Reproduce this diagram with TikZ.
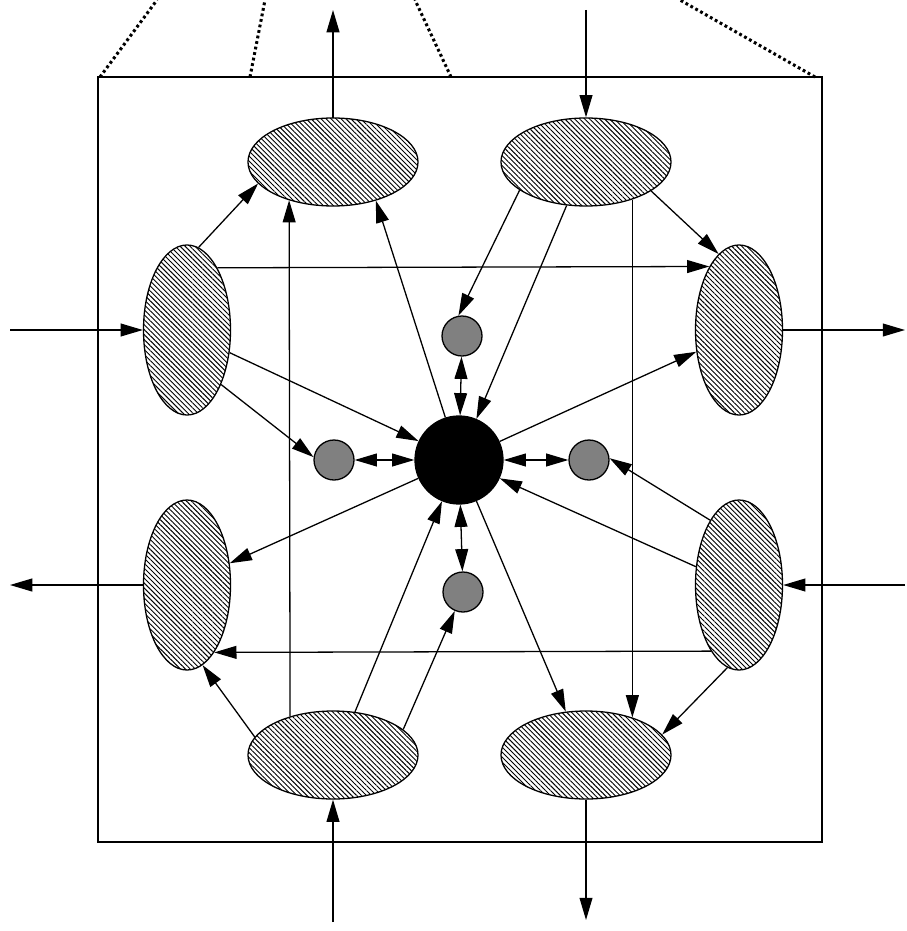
\documentclass[tikz,border=0pt]{standalone}
\usetikzlibrary{shapes.geometric,arrows.meta,patterns.meta}

\begin{document}
\begin{tikzpicture}[x=0.03cm,y=-0.03cm,line width=1.1pt,
    >={Triangle[length=19pt,width=11pt]},
    hatched/.style={draw,ellipse,inner sep=0pt,preaction={fill=white},
        pattern={Lines[angle=-45,distance=3pt,line width=0.8pt]}},
    flatell/.style={hatched,minimum width=5.1cm,minimum height=2.64cm},
    tallell/.style={hatched,minimum width=2.61cm,minimum height=5.1cm},
    corenode/.style={draw,circle,fill=black,minimum size=2.64cm,inner sep=0pt},
    pool/.style={draw,circle,fill=gray,minimum size=1.2cm,inner sep=0pt},
    dotline/.style={line width=2.6pt,dash pattern=on 2.4pt off 2.4pt}]
    \useasboundingbox (0,0) rectangle (907,931);

    % frame and the dotted lines leaving it
        \draw (98,77) rectangle (822,842);
        \coordinate (f1) at (100,77);
        \coordinate (f2) at (250,77);
        \coordinate (f3) at (451,77);
        \coordinate (f4) at (815,77);
        \draw[dotline] (f1) -- (157,0);
        \draw[dotline] (f2) -- (265,0);
        \draw[dotline] (f3) -- (415,0);
        \draw[dotline] (f4) -- (680,0);

    % ellipses round the hub
        \node[flatell] (topL) at (333,162) {};
        \node[flatell] (topR) at (586,162) {};
        \node[tallell] (rightU) at (739,330) {};
        \node[tallell] (rightL) at (739,585) {};
        \node[flatell] (botR) at (586,755) {};
        \node[flatell] (botL) at (333,755) {};
        \node[tallell] (leftL) at (187,585) {};
        \node[tallell] (leftU) at (187,330) {};

    % hub and small pools
        \node[corenode] (hub) at (459,460) {};
        \node[pool] (gN) at (462,336) {};
        \node[pool] (gW) at (334,460) {};
        \node[pool] (gE) at (589,460) {};
        \node[pool] (gS) at (463,592) {};

    % free ends outside
        \coordinate (outN) at (333,10);
        \coordinate (inN) at (586,10);
        \coordinate (outE) at (905,330);
        \coordinate (inE) at (905,585);
        \coordinate (outS) at (586,920);
        \coordinate (inS) at (333,922);
        \coordinate (outW) at (10,585);
        \coordinate (inW) at (10,330);

    % in and out
        \draw[->] (topL) -- (outN);
        \draw[->] (inN) -- (topR);
        \draw[->] (rightU) -- (outE);
        \draw[->] (inE) -- (rightL);
        \draw[->] (botR) -- (outS);
        \draw[->] (inS) -- (botL);
        \draw[->] (leftL) -- (outW);
        \draw[->] (inW) -- (leftU);

    % between the ellipses
        \draw[->] (leftU.82) -- (topL.196);
        \draw[->] (leftU.64.3) -- (rightU.115.7);
        \draw[->] (topR.-24) -- (rightU.105);
        \draw[->] (topR.-39.6) -- (botR.39.6);
        \draw[->] (rightL.247.5) -- (leftL.292.5);
        \draw[->] (rightL.262.6) -- (botR.15);
        \draw[->] (botL.138.5) -- (topL.221.5);
        \draw[->] (botL.167.5) -- (leftL.281);

    % to and from the hub
        \draw[->] (leftU.-28) -- (hub);
        \draw[->] (topR.246) -- (hub);
        \draw[->] (rightL.157) -- (hub);
        \draw[->] (botL.63) -- (hub);
        \draw[->] (hub) -- (topL.318);
        \draw[->] (hub) -- (rightU.207);
        \draw[->] (hub) -- (botR.115);
        \draw[->] (hub) -- (leftL.27);

    % to the pools
        \draw[->] (leftU.-58) -- (gW.172);
        \draw[->] (topR.203) -- (gN.100);
        \draw[->] (rightL.114) -- (gE.5);
        \draw[->] (botL.20.5) -- (gS);
        \draw[<->] (gN) -- (hub);
        \draw[<->] (gW) -- (hub);
        \draw[<->] (gE) -- (hub);
        \draw[<->] (gS) -- (hub);

\end{tikzpicture}
\end{document}
